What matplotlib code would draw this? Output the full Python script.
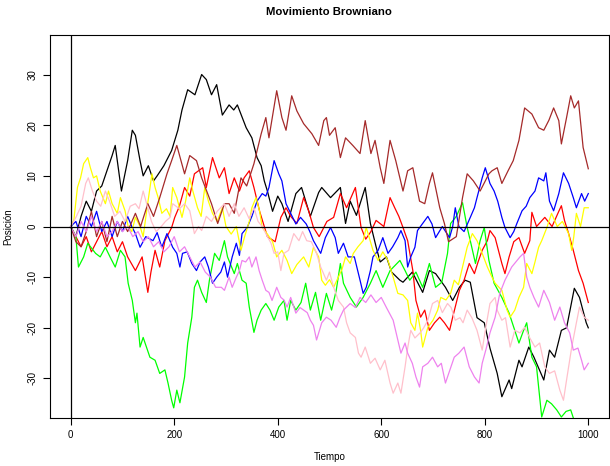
import matplotlib
matplotlib.use("Agg")
import matplotlib.pyplot as plt

plt.rcParams['font.family'] = ['Liberation Sans', 'DejaVu Sans']
plt.rcParams['axes.unicode_minus'] = False

title = "Movimiento Browniano"
xlabel = "Tiempo"
ylabel = "Posición"
xticks = [0, 200, 400, 600, 800, 1000]
yticks = [-30, -20, -10, 0, 10, 20, 30]

black_t = [0, 10, 20, 30, 40, 50, 60, 70, 80, 86, 98, 110, 119, 125, 134, 140, 150, 160, 167, 180, 195, 207, 215, 226, 240, 253, 262, 272, 282, 293, 306, 315, 322, 339, 350, 360, 368, 374, 380, 390, 400, 408, 420, 435, 446, 463, 479, 485, 502, 521, 531, 540, 552, 569, 579, 590, 598, 610, 620, 636, 642, 660, 680, 693, 705, 724, 738, 751, 762, 772, 785, 799, 810, 824, 833, 847, 852, 866, 872, 885, 895, 914, 925, 935, 948, 958, 973, 983, 996, 1000]
black_y = [0, -2, 2, 5, 3, 7, 8, 11, 14, 16, 7, 13, 19, 18, 13, 10, 12, 9, 10, 12, 15, 19, 23, 27, 26, 30, 29, 26, 28, 22, 24, 23, 24, 19.5, 17.5, 13.6, 12, 9, 7, 3, 6, 4.5, 1, 6.5, 7.7, 2, 6.7, 7.7, 5.7, 7.7, 0.6, 5, 2.2, 7.7, 0.6, -4, -7, -6, -9, -10.6, -11, -9, -13, -8.7, -9.3, -12, -14.6, -12, -10.6, -11, -18, -19, -24, -29, -33.6, -30.3, -32, -26.4, -27.7, -23.8, -25.8, -30.3, -24.4, -25.8, -20.5, -20, -12.2, -14, -19, -20]

red_t = [0, 10, 20, 30, 40, 50, 60, 70, 80, 90, 100, 110, 125, 138, 149, 155, 163, 172, 182, 195, 201, 210, 220, 230, 239, 255, 262, 274, 287, 297, 306, 316, 326, 335, 345, 354, 365, 380, 395, 406, 416, 425, 437, 450, 460, 469, 480, 495, 508, 521, 533, 550, 561, 570, 580, 590, 605, 617, 626, 634, 642, 651, 661, 667, 676, 684, 693, 703, 713, 722, 732, 738, 751, 760, 770, 780, 787, 795, 805, 810, 820, 833, 839, 847, 856, 866, 877, 887, 891, 900, 916, 930, 943, 948, 954, 962, 971, 981, 990, 1000]
red_y = [0, -2, -4, -2, -5, -3, -1, -4, -2, -5, -3, -6, -8.7, -6, -13, -9, -4.7, -8, -2.8, -0.2, 1.8, 4, 7.7, 6, 10.4, 11.6, 7.7, 13.6, 9.6, 11.6, 6.5, 9.6, 7, 9.6, 11, 7.7, 3, -2, -3, 1.8, 3.7, 2, 0.6, 5.7, 3, -0.2, -2, 1, 1.8, 6.5, 3.7, 7.7, -0.2, -2.5, -1, 1.2, 0, 5.7, 3.7, 2, -0.2, -2.8, -8.7, -14.6, -17.9, -16.5, -20.5, -19, -17.9, -19, -20.5, -17.9, -12.6, -10.6, -7.3, -9.3, -7, -4.7, -2.8, -0.8, -2.2, -7.3, -9.3, -6, -3, -2.2, -5.3, -2.8, 2.8, 0, 1.8, 0, 3, 4.1, 1.2, -1.4, -4.7, -8.7, -11.2, -15]

green_t = [0, 10, 15, 25, 33, 48, 57, 67, 76, 86, 96, 105, 111, 119, 125, 128, 134, 140, 147, 153, 163, 172, 182, 188, 195, 199, 205, 211, 220, 226, 234, 239, 245, 253, 262, 268, 278, 287, 297, 303, 316, 322, 331, 339, 345, 354, 360, 368, 377, 385, 393, 402, 412, 418, 425, 435, 445, 454, 463, 473, 483, 494, 504, 513, 521, 527, 540, 552, 565, 579, 590, 603, 617, 636, 646, 655, 667, 680, 693, 705, 717, 728, 734, 745, 757, 766, 772, 782, 791, 799, 808, 818, 833, 847, 856, 866, 875, 881, 891, 900, 910, 920, 929, 939, 948, 957, 966, 975, 990, 1000]
green_y = [0, -2, -8, -6, -3.3, -5.3, -6, -4.1, -6, -8, -4.7, -6, -11.2, -14.6, -19, -17.1, -23.8, -21.9, -24, -25.8, -26.4, -29, -28.3, -30.9, -34.3, -35.8, -32.3, -34.8, -29.7, -23, -17.9, -12, -10.6, -13, -15, -10.6, -5.3, -6.7, -2.8, -6, -9.3, -7.3, -10.6, -11.2, -15.9, -20.9, -18.5, -16.5, -15.2, -16.5, -18.5, -15.9, -14.6, -18.5, -14.6, -16.5, -15, -11.2, -16.5, -13, -18.5, -13.2, -16.5, -12.6, -7.3, -11.2, -14, -15.9, -14, -11.2, -8.7, -12, -8.7, -6.7, -8.7, -10.6, -9, -12, -7.3, -12, -11, -5.3, 0.6, 2, 4.7, -0.2, -2.8, -7.3, -2.8, -0.2, -6.7, -11.2, -14, -17.1, -19.9, -23, -20.5, -19, -25.8, -27.7, -37.6, -34.3, -35, -36.2, -37.6, -36.5, -36.2, -39, -41, -40]

blue_t = [0, 10, 20, 30, 40, 50, 60, 70, 80, 90, 100, 110, 118, 125, 134, 145, 159, 167, 176, 186, 197, 205, 211, 216, 225, 234, 243, 250, 259, 266, 274, 282, 290, 297, 303, 312, 320, 326, 331, 341, 350, 360, 370, 377, 383, 393, 402, 408, 416, 425, 435, 444, 455, 462, 469, 483, 492, 502, 511, 517, 527, 536, 548, 559, 565, 571, 579, 584, 594, 603, 613, 622, 632, 638, 646, 651, 657, 665, 670, 680, 690, 698, 705, 718, 732, 738, 743, 750, 760, 772, 780, 785, 795, 801, 810, 818, 825, 833, 839, 849, 856, 862, 872, 880, 887, 897, 904, 914, 918, 925, 933, 943, 952, 962, 971, 977, 987, 993, 1000]
blue_y = [0, 1, -2, 2, 0, 3, -1, 1, -2, 1, -1, 2, 0, -1.4, -4.1, -2, -2.8, -1.2, -4.1, -1.4, -4.1, -5.3, -8, -5.3, -5, -7.3, -8.7, -7, -6, -8, -11.2, -10, -9, -7, -10, -6, -3.3, -5.7, -1.4, -0.2, 2, 5, 6.5, 6, 7.7, 13, 10.4, 9, 4.5, 2.6, 0.5, 1.8, 0.5, -1, -2.8, -5.3, -2.2, -0.2, -2.2, -5.3, -3.3, -6, -6, -10.6, -13.2, -12, -8.7, -6, -4.7, -2.2, -5.3, -4, -2.2, -0.8, -2.8, -8, -6, -4.1, -0.8, 0.6, 2, 0.5, -2.2, 0, -2.2, 0, 3.7, 0, -1, 1.8, 3.7, 5.7, 9.6, 11.6, 8.5, 7, 5, 1.8, -0.2, -2.2, -1, 0.6, 3.1, 4, 5.7, 7, 9.6, 9, 10.6, 5, 3.1, 6.5, 10.6, 8.5, 5.7, 3.7, 6.5, 5, 6.5]

yellow_t = [0, 6, 13, 19, 25, 33, 38, 44, 50, 57, 67, 73, 80, 90, 96, 105, 111, 118, 125, 134, 140, 148, 157, 163, 169, 176, 185, 192, 197, 205, 215, 222, 230, 236, 245, 252, 259, 266, 274, 283, 293, 300, 310, 320, 329, 336, 345, 350, 358, 365, 370, 380, 390, 398, 408, 418, 427, 437, 450, 460, 469, 479, 485, 492, 500, 508, 517, 524, 531, 540, 546, 555, 565, 571, 584, 594, 603, 613, 623, 632, 642, 651, 657, 665, 670, 676, 680, 690, 700, 709, 715, 725, 734, 741, 749, 757, 766, 776, 785, 795, 805, 814, 820, 833, 843, 849, 858, 866, 875, 881, 891, 897, 904, 910, 920, 929, 940, 950, 962, 968, 972, 977, 985, 992, 1000]
yellow_y = [0, 1.2, 7.7, 9.6, 12.4, 13.6, 11.6, 9.6, 10, 7, 4.5, 7, 4.5, 2.6, 5.7, 3.1, 0, -1, 1.8, 0, -2, 4, 10.4, 7.7, 5.7, 2.6, 3.5, 2, 7.7, 5.7, 1.8, 5, 9.6, 7, 3.7, 2, 7.7, 5, 2.6, 1, 3.7, 0, -1.5, 0, -4.7, -2, 1, 3.7, 5.7, 3, -0.2, -1.5, -3, -6, -4.7, -6.7, -9.3, -7.5, -6, -8, -4.1, -6, -10.6, -11.6, -10.5, -12, -10, -8.5, -6, -7.3, -5.3, -4, -2.8, -0.2, -4.7, -6.7, -5, -6.7, -10, -13.2, -13.5, -14.6, -19, -20.5, -17.1, -20.5, -23.8, -19.9, -18.5, -16.5, -14, -14.5, -13.2, -10.6, -11.5, -8, -4.1, -1.4, -2.8, -5.3, -8, -10, -11.2, -12.6, -16.5, -17.9, -16.5, -14, -12, -7.3, -9.3, -7, -4.1, -2.8, -0.2, 2.6, 0, 1, -1.4, -4.7, -2, 2.6, 0, 3.7, 3.7]

brown_t = [0, 10, 20, 30, 40, 50, 60, 70, 80, 90, 100, 110, 125, 135, 149, 160, 172, 186, 195, 205, 220, 230, 243, 253, 272, 284, 297, 306, 316, 329, 340, 354, 368, 377, 383, 398, 408, 416, 427, 437, 450, 466, 479, 489, 494, 500, 511, 521, 531, 545, 559, 569, 580, 588, 598, 605, 617, 628, 642, 651, 661, 674, 684, 693, 699, 713, 722, 730, 745, 757, 766, 778, 791, 808, 814, 824, 833, 845, 855, 866, 877, 891, 904, 914, 924, 933, 943, 948, 958, 966, 973, 981, 990, 1000]
brown_y = [0, -3, -4, -1, 3, -2, 1, -3, 2, -2, 1, -1, 2.6, 0, 4.5, 2, 5.7, 10.4, 13, 16, 10.4, 14, 13, 9.6, 4.5, 0.6, 4.5, 4.5, 2.6, 9.6, 8, 12.4, 18.3, 21.5, 17.5, 26.8, 21.5, 19, 25.8, 22.8, 20.3, 18.3, 16, 20.9, 21.5, 18, 19.5, 13.6, 17.5, 16, 14.4, 20.9, 14.4, 17, 11.6, 8.5, 17, 13, 7, 11, 11.6, 5, 4.5, 8.5, 10.6, 3.7, 0.6, -3, -2, 5.7, 10.4, 9, 7, 10.4, 11, 11.6, 8.5, 11, 13, 17, 23.4, 22.2, 19.5, 19, 21, 23.4, 20.9, 16.3, 21.5, 25.8, 23.4, 24.8, 15.6, 11.4]

pink_t = [0, 10, 20, 29, 34, 42, 50, 58, 67, 75, 85, 95, 105, 115, 125, 132, 140, 148, 156, 165, 175, 183, 192, 197, 210, 220, 230, 239, 247, 253, 262, 272, 283, 297, 306, 316, 325, 335, 345, 354, 362, 370, 377, 387, 393, 400, 406, 412, 421, 431, 441, 448, 456, 465, 475, 483, 494, 500, 508, 517, 527, 533, 540, 550, 556, 561, 569, 579, 588, 598, 607, 617, 623, 632, 638, 646, 651, 657, 665, 675, 682, 690, 699, 709, 718, 728, 735, 743, 752, 758, 766, 775, 785, 795, 801, 810, 820, 824, 833, 840, 849, 858, 868, 877, 887, 897, 906, 916, 925, 935, 945, 952, 958, 968, 977, 983, 992, 1000]
pink_y = [0, 1.8, 4, 8.5, 9.6, 7, 5, 4, 7, 5, 2, 3, 1, 4, 4.5, 3.5, 7, 4, 1, -1, 0, 1, 1.8, 4.5, 3.5, 4.5, 3.1, -1.4, 0, -0.8, 2, 1, 3, 4.5, 2, 4.5, 2, 3.7, 1.5, 3.7, 1, 0, -1.4, -3.3, -5.3, -5, -8.7, -5.3, -4.7, -1.4, -2.8, -1, -2.8, -3, -5.3, -8, -10.6, -9, -12, -14.6, -15.9, -19, -21, -21.9, -25, -25.8, -23.8, -27, -26, -28.3, -26.4, -30.9, -32.9, -30.9, -32.9, -27.7, -24, -20.5, -22, -21, -20, -18.5, -15.2, -14.6, -17, -15.2, -16, -18.5, -18, -19, -16.5, -18, -20.5, -24.4, -20.5, -15.2, -14, -16.5, -18.5, -18, -23.8, -20.5, -21, -19.9, -22, -23.8, -23, -27.7, -29, -28.5, -32.3, -34.3, -30.3, -23.8, -19, -15.9, -17.9, -18.5]

violet_t = [0, 10, 20, 30, 40, 50, 60, 70, 80, 90, 100, 110, 120, 130, 140, 150, 160, 170, 180, 190, 200, 210, 220, 230, 240, 250, 260, 270, 280, 291, 297, 306, 312, 320, 326, 331, 338, 345, 350, 358, 364, 370, 377, 383, 389, 398, 406, 412, 418, 425, 435, 443, 450, 457, 463, 469, 475, 485, 494, 503, 513, 520, 527, 540, 550, 559, 570, 580, 590, 600, 610, 623, 632, 638, 646, 651, 660, 667, 674, 680, 690, 699, 709, 716, 724, 732, 741, 750, 760, 770, 780, 789, 795, 803, 810, 820, 829, 839, 852, 860, 868, 875, 881, 887, 895, 904, 914, 925, 935, 945, 954, 964, 971, 980, 987, 992, 1000]
violet_y = [0, -2, 1, -1, 2, -1, 1, -2, -1, 1, -1, 0, -2, -1, -3, -2, -4, -3, -5, -4, -2, -5, -4, -6, -8, -7, -9, -10, -12, -12, -12.6, -10, -12, -10, -8.7, -6.7, -7, -6, -8, -6, -8.7, -10.6, -12.6, -13, -14.6, -12, -14, -14.5, -15.9, -14, -17.1, -16, -16.5, -17, -18.5, -19.5, -22.4, -19, -17.9, -18.5, -19.9, -18, -16.5, -15.2, -16, -14, -15, -13.5, -15, -14, -16, -18.5, -22.4, -25, -23, -25, -27, -29.7, -31.7, -27.7, -27, -25.8, -27.7, -27, -30.9, -28.5, -25.8, -25, -23.8, -27.7, -29.7, -30.9, -27, -24, -21, -17.9, -13.2, -10.6, -8, -7, -6, -5.3, -10, -12, -14, -15.9, -12.6, -15, -18.5, -15.9, -19, -21, -24.4, -24, -26.4, -28.3, -27]

series = [
    (black_t, black_y, "black"),
    (red_t, red_y, "red"),
    (green_t, green_y, "#00FF00"),
    (blue_t, blue_y, "blue"),
    (yellow_t, yellow_y, "yellow"),
    (brown_t, brown_y, "#A52A2A"),
    (pink_t, pink_y, "pink"),
    (violet_t, violet_y, "violet"),
]

fig = plt.figure(figsize=(6.10, 4.66), dpi=100)
ax = fig.add_axes([50/610, 1-418/466, 559/610, 383/466])
for t, y, c in series:
    ax.plot(t, y, color=c, linewidth=0.9)
ax.axhline(0, color="black", linewidth=0.9)
ax.axvline(0, color="black", linewidth=0.9)

ax.set_xlim(-40, 1040)
ax.set_ylim(-37.8, 37.8)
ax.set_xticks(xticks)
ax.set_yticks(yticks)
ax.set_xticklabels([str(v) for v in xticks], fontsize=7)
ax.set_yticklabels([str(v) for v in yticks], fontsize=7, rotation=90, va="center")
ax.tick_params(direction="out", length=5, width=0.8, pad=4)
for s in ax.spines.values():
    s.set_linewidth(0.8)
ax.set_xlabel(xlabel, fontsize=7, labelpad=8)
ax.set_ylabel(ylabel, fontsize=7, labelpad=10)
fig.text(0.5 + (50/610 + 559/610 - 1) / 2 * 0 + 0.04, 1 - 12/466, title, ha="center", va="center", fontsize=8.2, fontweight="bold")
fig.savefig("out.png", dpi=100)
